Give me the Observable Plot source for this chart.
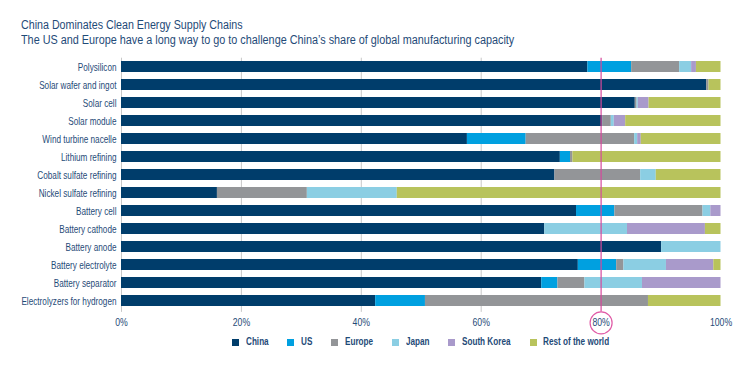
<!DOCTYPE html>
<html>
<head>
<meta charset="utf-8">
<script src="https://cdn.jsdelivr.net/npm/d3@7"></script>
<script src="https://cdn.jsdelivr.net/npm/@observablehq/plot@0.6"></script>
<style>
  html, body { margin: 0; padding: 0; background: #fff; }
  #fig { position: relative; width: 750px; height: 370px; font-family: "Liberation Sans", Arial, sans-serif; color: #1f4b78; overflow: hidden; }
  .tline { position: absolute; left: 20.5px; font-size: 12.5px; line-height: 15px; color: #1f4b78; white-space: nowrap; transform-origin: 0 0; }
  #legend { position: absolute; left: 0; top: 0; width: 750px; height: 370px; pointer-events: none; }
  .lsw { position: absolute; width: 7px; height: 7px; }
  .ltx { position: absolute; font-size: 10.2px; font-weight: bold; line-height: 12px; color: #1f4b78; white-space: nowrap; transform-origin: 0 0; }
  svg { position: absolute; left: 0; top: 0; }
</style>
</head>
<body>
<div id="fig">
  <div class="tline" id="t1" style="top:17.5px">China Dominates Clean Energy Supply Chains</div>
  <div class="tline" id="t2" style="top:32.5px">The US and Europe have a long way to go to challenge China’s share of global manufacturing capacity</div>
  <div id="legend"></div>
</div>
<script>
const categories = ["Polysilicon", "Solar wafer and ingot", "Solar cell", "Solar module", "Wind turbine nacelle", "Lithium refining", "Cobalt sulfate refining", "Nickel sulfate refining", "Battery cell", "Battery cathode", "Battery anode", "Battery electrolyte", "Battery separator", "Electrolyzers for hydrogen"];
const regions = ["China", "US", "Europe", "Japan", "South Korea", "Rest of the world"];
const regionColors = ["#003d6b", "#00a0e0", "#939598", "#8bcee3", "#a99acb", "#b8c35c"];
const china  = [77.8, 97.6, 85.7, 80.3, 57.7, 73.2, 72.3, 16.0, 75.9, 70.6, 90.1, 76.2, 70.1, 42.4];
const us     = [7.3, 0, 0, 0, 9.8, 1.7, 0, 0, 6.4, 0, 0, 6.4, 2.7, 8.3];
const europe = [8.0, 0.4, 0.3, 1.4, 18.1, 0.4, 14.3, 15.0, 14.7, 0, 0, 1.2, 4.5, 37.2];
const japan  = [2.0, 0, 0.2, 0.5, 0.5, 0, 2.6, 15.0, 1.3, 13.8, 9.9, 7.1, 9.6, 0];
const korea  = [0.8, 0, 1.8, 1.9, 0.6, 0, 0, 0, 1.7, 13.0, 0, 7.9, 13.1, 0];
const rest   = [4.1, 2.0, 12.0, 15.9, 13.3, 24.7, 10.8, 54.0, 0, 2.6, 0, 1.2, 0, 12.1];
const xTicks = [0, 20, 40, 60, 80, 100];
const gridTicks = [0, 20, 40, 60];
const highlight = [80];

const series = [china, us, europe, japan, korea, rest];
const data = [];
series.forEach((vals, i) => {
  vals.forEach((v, j) => data.push({category: categories[j], region: regions[i], value: v}));
});

const textColor = "#1f4b78";
const font = "\"Liberation Sans\", Arial, sans-serif";
// condensed look: horizontal squeeze factors
const kTitle = 0.855, kSub = 0.867, kY = 0.745, kX = 0.79, kLegend = 0.8;

const chart = Plot.plot({
  width: 750,
  height: 330,
  marginTop: 57.7,
  marginBottom: 19.6,
  marginLeft: 121,
  marginRight: 29.5,
  style: {fontFamily: font, fontSize: "11px", color: textColor, background: "transparent", overflow: "visible"},
  x: {domain: [0, 100], ticks: xTicks, tickFormat: d => d + "%", label: null},
  y: {domain: categories, paddingInner: 0.37, paddingOuter: 0.185, label: null},
  color: {domain: regions, range: regionColors},
  marks: [
    Plot.ruleX(gridTicks, {x: d => d, stroke: "#c8c8c8", strokeWidth: 1, insetBottom: -1.5}),
    Plot.barX(data, {y: "category", x: "value", fill: "region"}),
    Plot.ruleX(highlight, {x: d => d, stroke: "#d6489b", strokeWidth: 1.2, insetBottom: -1}),
    Plot.dot(highlight, {x: d => d, frameAnchor: "bottom", dy: 12, r: 11, stroke: "#e05aa6", strokeWidth: 1.2, fill: "none"}),
    Plot.axisX({ticks: xTicks, tickFormat: d => d + "%", tickSize: 0, tickPadding: 7.5, fill: textColor, fontSize: 11, label: null}),
    Plot.axisY({tickSize: 0, tickPadding: 5, fill: textColor, fontSize: 11, label: null})
  ]
});
document.getElementById("fig").prepend(chart);

function squeezeText(t, k) {
  const tr = t.getAttribute("transform");
  if (tr) {
    t.setAttribute("transform", tr + ` scale(${k},1)`);
  } else {
    const x = +t.getAttribute("x") || 0, y = +t.getAttribute("y") || 0;
    t.setAttribute("transform", `translate(${x},${y}) scale(${k},1) translate(${-x},${-y})`);
  }
}
chart.querySelectorAll("text").forEach(t => {
  const b = t.getBoundingClientRect();
  const cx = b.left + b.width / 2, cy = b.top + b.height / 2;
  if (cy > 312) squeezeText(t, kX);
  else if (cx < 121) squeezeText(t, kY);
});

document.getElementById("t1").style.transform = `scaleX(${kTitle})`;
document.getElementById("t2").style.transform = `scaleX(${kSub})`;

// legend: centered under the plot area
const legend = document.getElementById("legend");
const swSize = 7, swGap = 6.7, itemGap = 19, legendTop = 339, center = (121 + 720.5) / 2;
const items = regions.map((r, i) => {
  const sw = document.createElement("div");
  sw.className = "lsw";
  sw.style.background = regionColors[i];
  const t = document.createElement("div");
  t.className = "ltx";
  t.textContent = r;
  legend.appendChild(sw);
  legend.appendChild(t);
  const w = t.getBoundingClientRect().width * kLegend;
  return {sw, t, w};
});
const total = items.reduce((s, d) => s + swSize + swGap + d.w, 0) + itemGap * (items.length - 1);
let xpos = center - total / 2;
items.forEach(d => {
  d.sw.style.left = xpos + "px";
  d.sw.style.top = legendTop + "px";
  d.t.style.left = (xpos + swSize + swGap) + "px";
  d.t.style.top = (legendTop - 3) + "px";
  d.t.style.transform = `scaleX(${kLegend})`;
  xpos += swSize + swGap + d.w + itemGap;
});
</script>
</body>
</html>
